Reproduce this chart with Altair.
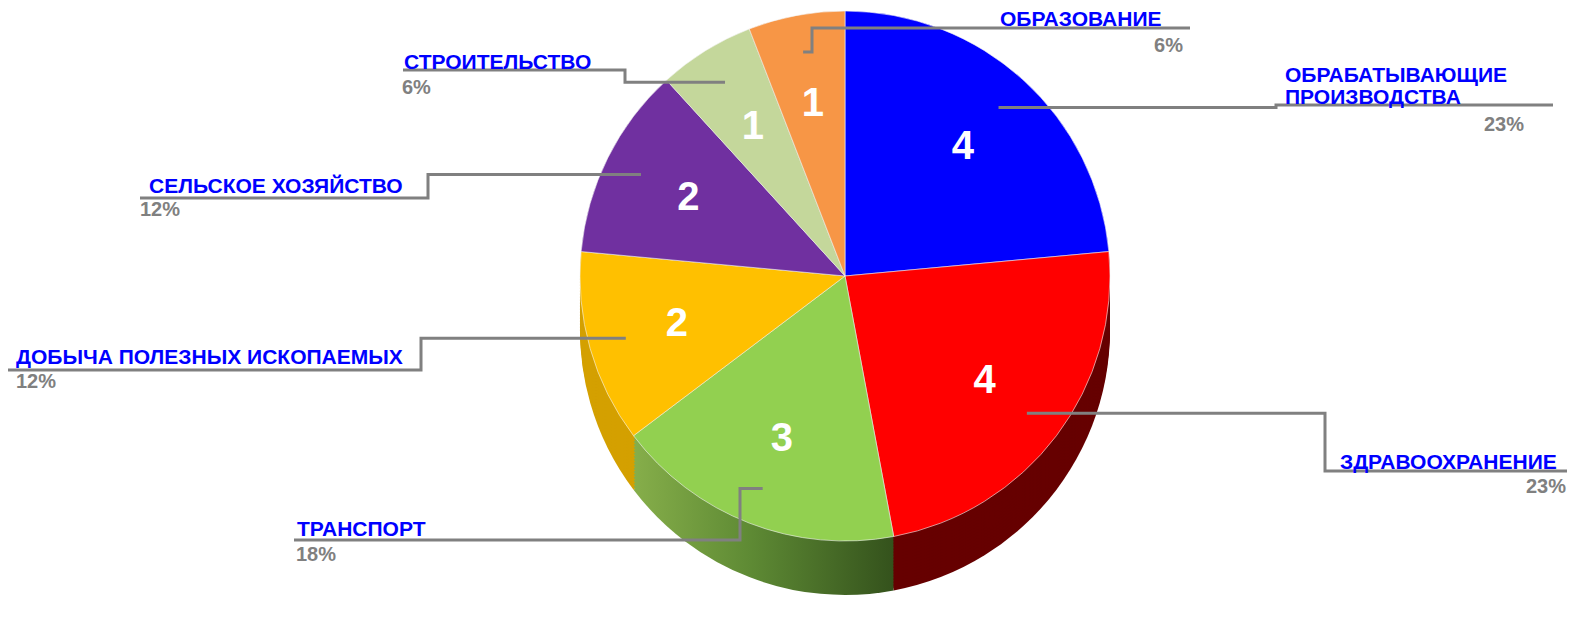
import math
import altair as alt
import pandas as pd

# ---- data ----
categories = ["ОБРАБАТЫВАЮЩИЕ ПРОИЗВОДСТВА", "ЗДРАВООХРАНЕНИЕ", "ТРАНСПОРТ",
              "ДОБЫЧА ПОЛЕЗНЫХ ИСКОПАЕМЫХ", "СЕЛЬСКОЕ ХОЗЯЙСТВО", "СТРОИТЕЛЬСТВО",
              "ОБРАЗОВАНИЕ"]
values = [4, 4, 3, 2, 2, 1, 1]
percents = [23, 23, 18, 12, 12, 6, 6]
label_lines = ["ОБРАБАТЫВАЮЩИЕ\nПРОИЗВОДСТВА", "ЗДРАВООХРАНЕНИЕ", "ТРАНСПОРТ",
               "ДОБЫЧА ПОЛЕЗНЫХ ИСКОПАЕМЫХ", "СЕЛЬСКОЕ ХОЗЯЙСТВО", "СТРОИТЕЛЬСТВО",
               "ОБРАЗОВАНИЕ"]

# ---- styles ----
top_colors = ["#0000FF", "#FF0000", "#92D050", "#FFC000", "#7030A0", "#C4D79B", "#F79646"]
side_colors = ["#00009A", "#660000", "#5A8632", "#D4A000", "#4A1F6B", "#8E9C6C", "#B8692C"]
green_side_gradient = {
    "gradient": "linear", "x1": 0, "y1": 0, "x2": 1, "y2": 0,
    "stops": [{"offset": 0, "color": "#86AE4A"}, {"offset": 0.45, "color": "#5E8A34"},
              {"offset": 1, "color": "#34521C"}],
}

# ---- layout (page coordinates) ----
W, H, M = 1560, 601, 8
CX, CY, R, DEPTH = 845, 276, 265, 54
label_x = [1285, 1340, 297, 16, 149, 404, 1000]
label_y = [82, 469, 536, 364, 193, 69, 26]
line_y = [105, 471, 540, 370, 198, 70, 28]
elbow_x = [1276, 1325, 740, 421, 428, 625, 812]
line_end = [1553, 1567, 294, 8, 140, 403, 1190]
pct_x = [1524, 1566, 296, 16, 140, 402, 1183]
pct_y = [131, 493, 561, 388, 216, 94, 52]
right_side = [True, True, False, False, False, False, True]

total = sum(values)
df = pd.DataFrame({
    "cat": categories,
    "value": values,
    "order": list(range(len(values))),
    "pct": [f"{p}%" for p in percents],
    "label": label_lines,
    "lx": label_x, "ly": label_y, "px": pct_x, "py": pct_y,
    "right": right_side,
})

xs = alt.Scale(domain=[M, W + M], range=[0, W])
ys = alt.Scale(domain=[M, H + M], range=[0, H])

base = alt.Chart(df)

# side of the "3D" pie (stacked shifted copies)
side_layers = []
for off in range(DEPTH, 0, -3):
    side_layers.append(base.mark_arc(radius=R, stroke=None).encode(
        theta=alt.Theta("value:Q", stack=True),
        order=alt.Order("order:Q"),
        color=alt.condition(
            "datum.cat == 'ТРАНСПОРТ'",
            alt.value(green_side_gradient),
            alt.Color("cat:N", scale=alt.Scale(domain=categories, range=side_colors), legend=None),
        ),
        x=alt.value(CX - M), y=alt.value(CY + off - M),
    ))
side = alt.layer(*side_layers)

# top face
top = base.mark_arc(radius=R, stroke="#f4f4f4", strokeWidth=0.6).encode(
    theta=alt.Theta("value:Q", stack=True),
    order=alt.Order("order:Q"),
    color=alt.Color("cat:N", scale=alt.Scale(domain=categories, range=top_colors), legend=None),
    x=alt.value(CX - M), y=alt.value(CY - M),
)
pie = alt.layer(side, top).resolve_scale(color="independent")

layers = [pie]
# value numbers
layers.append(base.mark_text(radius=R * 0.66, fontSize=40, fontWeight="bold",
                             font="Liberation Sans", color="white").encode(
    theta=alt.Theta("value:Q", stack=True),
    order=alt.Order("order:Q"),
    text="value:Q",
    x=alt.value(CX - M), y=alt.value(CY - M),
))

# leader lines: start near slice (derived from data angle), then elbow to label
rows = []
cum = 0
for i, v in enumerate(values):
    mid = (cum + v / 2) / total * 2 * math.pi
    cum += v
    sx = CX + R * 0.86 * math.sin(mid)
    sy = CY - R * 0.86 * math.cos(mid)
    pts = [(sx, sy), (elbow_x[i], sy), (elbow_x[i], line_y[i]), (line_end[i], line_y[i])]
    for k, (px, py) in enumerate(pts):
        rows.append({"cat": categories[i], "k": k, "x": px, "y": py})
lines_df = pd.DataFrame(rows)
layers.append(alt.Chart(lines_df).mark_line(color="#808080", strokeWidth=3,
                                            strokeJoin="miter", interpolate="linear").encode(
    x=alt.X("x:Q", scale=xs, axis=None),
    y=alt.Y("y:Q", scale=ys, axis=None),
    detail="cat:N",
    order="k:Q",
))

# category labels
layers.append(base.mark_text(align="left", baseline="alphabetic", fontSize=21,
                             fontWeight="bold", font="Liberation Sans", color="#0000FF",
                             lineBreak="\n", lineHeight=22).encode(
    x=alt.X("lx:Q", scale=xs, axis=None),
    y=alt.Y("ly:Q", scale=ys, axis=None),
    text="label:N",
))
# percentages
layers.append(base.transform_filter("datum.right").mark_text(
    align="right", baseline="alphabetic", fontSize=20, fontWeight="bold",
    font="Liberation Sans", color="#808080").encode(
    x=alt.X("px:Q", scale=xs, axis=None),
    y=alt.Y("py:Q", scale=ys, axis=None),
    text="pct:N",
))
layers.append(base.transform_filter("!datum.right").mark_text(
    align="left", baseline="alphabetic", fontSize=20, fontWeight="bold",
    font="Liberation Sans", color="#808080").encode(
    x=alt.X("px:Q", scale=xs, axis=None),
    y=alt.Y("py:Q", scale=ys, axis=None),
    text="pct:N",
))

chart = alt.layer(*layers).resolve_scale(color="independent").properties(
    width=W, height=H, padding=0, autosize=alt.AutoSizeParams(type="none"),
    background="white",
).configure_view(stroke=None)

chart.save("out.html", embed_options={"renderer": "svg", "actions": False})
